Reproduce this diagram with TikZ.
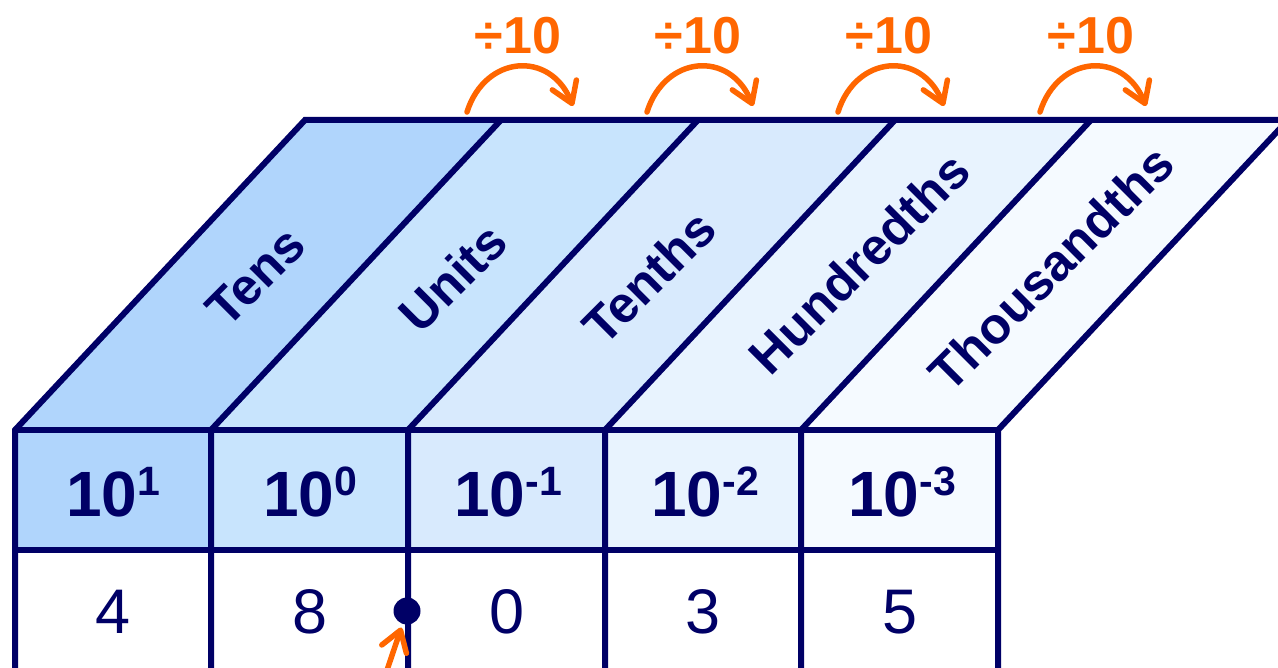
\documentclass[tikz,border=0pt]{standalone}
\usepackage{fontspec}
\setmainfont{Liberation Sans}
\usetikzlibrary{arrows.meta}
\definecolor{navy}{RGB}{0,0,102}
\definecolor{orng}{RGB}{255,102,0}
\definecolor{cA}{RGB}{176,213,252}
\definecolor{cB}{RGB}{200,228,253}
\definecolor{cC}{RGB}{216,234,253}
\definecolor{cD}{RGB}{232,243,254}
\definecolor{cE}{RGB}{245,250,255}
\newcommand{\hdr}[1]{{\fontsize{64}{68}\selectfont\bfseries 10\raisebox{21pt}{\fontsize{41}{42}\selectfont #1}}}
\begin{document}
\begin{tikzpicture}[x=1pt,y=-1pt,
  grid/.style={draw=navy, line width=6pt},
  band/.style={text=navy, font=\fontsize{51}{54}\selectfont\bfseries, rotate=45, inner sep=0pt},
  headtxt/.style={text=navy, inner sep=0pt},
  valtxt/.style={text=navy, font=\fontsize{63}{66}\selectfont, inner sep=0pt},
  divtxt/.style={text=orng, font=\fontsize{52}{56}\selectfont\bfseries, inner sep=0pt},
  arr/.style={draw=orng, line width=5.5pt, line cap=round, -{Straight Barb[length=20pt,width=26pt,round]}},
  pointdot/.style={circle, fill=navy, inner sep=0pt, outer sep=0pt, minimum size=27pt}]
\useasboundingbox (0,0) rectangle (1278,668);
\clip (0,0) rectangle (1278,668);
% fills
\foreach \a/\b/\c in {15/211/cA, 211/408/cB, 408/605/cC, 605/801/cD, 801/998/cE}{
  \fill[\c] (\a,430) -- (\a+290,120) -- (\b+290,120) -- (\b,430) -- cycle;
  \fill[\c] (\a,430) rectangle (\b,550);
}
% grid lines
\draw[grid] (15,690) -- (15,430) -- (305,120) -- (1300,120);
\draw[grid] (15,430) -- (998,430);
\draw[grid] (15,550) -- (998,550);
\foreach \x in {211,408,605,801,998}{
  \draw[grid] (\x,690) -- (\x,430) -- (\x+290,120);
}
% band labels
\node[band] (lTens) at (256,277) {Tens};
\node[band] (lUnits) at (453,278) {Units};
\node[band] (lTenths) at (649,277) {Tenths};
\node[band] (lHund) at (859,263) {Hundredths};
\node[band] (lThou) at (1051,268) {Thousandths};
% headers
\node[headtxt] (h1) at (113,492) {\hdr{1}};
\node[headtxt] (h2) at (310,492) {\hdr{0}};
\node[headtxt] (h3) at (508,492) {\hdr{-1}};
\node[headtxt] (h4) at (705,492) {\hdr{-2}};
\node[headtxt] (h5) at (902,492) {\hdr{-3}};
% values
\node[valtxt] (v1) at (113,612) {4};
\node[valtxt] (v2) at (310,612) {8};
\node[valtxt] (v3) at (507,612) {0};
\node[valtxt] (v4) at (703,612) {3};
\node[valtxt] (v5) at (900,612) {5};
% divide labels and arrows
\foreach \s/\n in {467/1, 647/2, 838/3, 1040/4}{
  \node[divtxt] (d\n) at (\s+51,36) {÷10};
  \coordinate (as\n) at (\s,112);
  \coordinate (ae\n) at (\s+106,106);
  \draw[arr] (as\n) .. controls +(18,-57) and +(-23,-56) .. (ae\n);
}
% decimal point
\node[pointdot] (dot) at (407,611) {};
\coordinate (bstart) at (383,682);
\draw[arr, shorten >=4pt] (bstart) -- (dot);
\end{tikzpicture}
\end{document}
